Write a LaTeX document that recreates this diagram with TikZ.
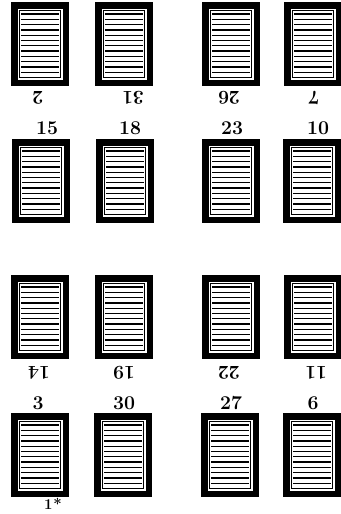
\documentclass[tikz,border=0pt]{standalone}
\tikzset{
  pagebox/.style={fill=black, draw=none, inner sep=0pt, outer sep=0pt,
    minimum width=58pt, minimum height=84pt,
    path picture={
      \fill[white] ([shift={(6.5pt,-6.5pt)}]path picture bounding box.north west)
        rectangle ([shift={(-6.5pt,6.5pt)}]path picture bounding box.south east);
      \draw[line width=1.3pt] ([shift={(8.4pt,-8.4pt)}]path picture bounding box.north west)
        rectangle ([shift={(-8.4pt,8.4pt)}]path picture bounding box.south east);
      \foreach \i in {0,...,12}{
        \pgfmathsetmacro\yy{-12-5.3*\i}
        \draw[line width=1.25pt] ([shift={(10.2pt,\yy pt)}]path picture bounding box.north west)
          -- ([shift={(-10.2pt,\yy pt)}]path picture bounding box.north east);
      }
    }},
  numlabel/.style={font=\fontsize{19.5}{19.5}\selectfont\bfseries, inner sep=0pt},
  flipped/.style={numlabel, rotate=180}
}
\begin{document}
\begin{tikzpicture}[x=1pt,y=-1pt]
\useasboundingbox (0,0) rectangle (340,514);
% row 1
\node[pagebox] (b1) at (40,44) {};
\node[pagebox] (b2) at (124,44) {};
\node[pagebox] (b3) at (231,44) {};
\node[pagebox] (b4) at (313,44) {};
\node[flipped] (l1) at (38,98) {2};
\node[flipped] (l2) at (133,98) {31};
\node[flipped] (l3) at (229,98) {26};
\node[flipped] (l4) at (314,98) {7};
% row 2
\node[numlabel] (l5) at (47,128) {15};
\node[numlabel] (l6) at (130,128) {18};
\node[numlabel] (l7) at (232,128) {23};
\node[numlabel] (l8) at (318,128) {10};
\node[pagebox] (b5) at (41,181) {};
\node[pagebox] (b6) at (125,181) {};
\node[pagebox] (b7) at (231,181) {};
\node[pagebox] (b8) at (312,181) {};
% row 3
\node[pagebox] (b9) at (40,317) {};
\node[pagebox] (b10) at (124,317) {};
\node[pagebox] (b11) at (231,317) {};
\node[pagebox] (b12) at (313,317) {};
\node[flipped] (l9) at (39,373) {14};
\node[flipped] (l10) at (124,373) {19};
\node[flipped] (l11) at (229,373) {22};
\node[flipped] (l12) at (316,373) {11};
% row 4
\node[numlabel] (l13) at (38,403) {3};
\node[numlabel] (l14) at (124,403) {30};
\node[numlabel] (l15) at (231,403) {27};
\node[numlabel] (l16) at (313,403) {6};
\node[pagebox] (b13) at (40,455) {};
\node[pagebox] (b14) at (123,455) {};
\node[pagebox] (b15) at (230,455) {};
\node[pagebox] (b16) at (312,455) {};
\node[font=\fontsize{15}{15}\selectfont\bfseries, inner sep=0pt] (sig) at (53,504) {1\hspace{1pt}*};
\end{tikzpicture}
\end{document}
